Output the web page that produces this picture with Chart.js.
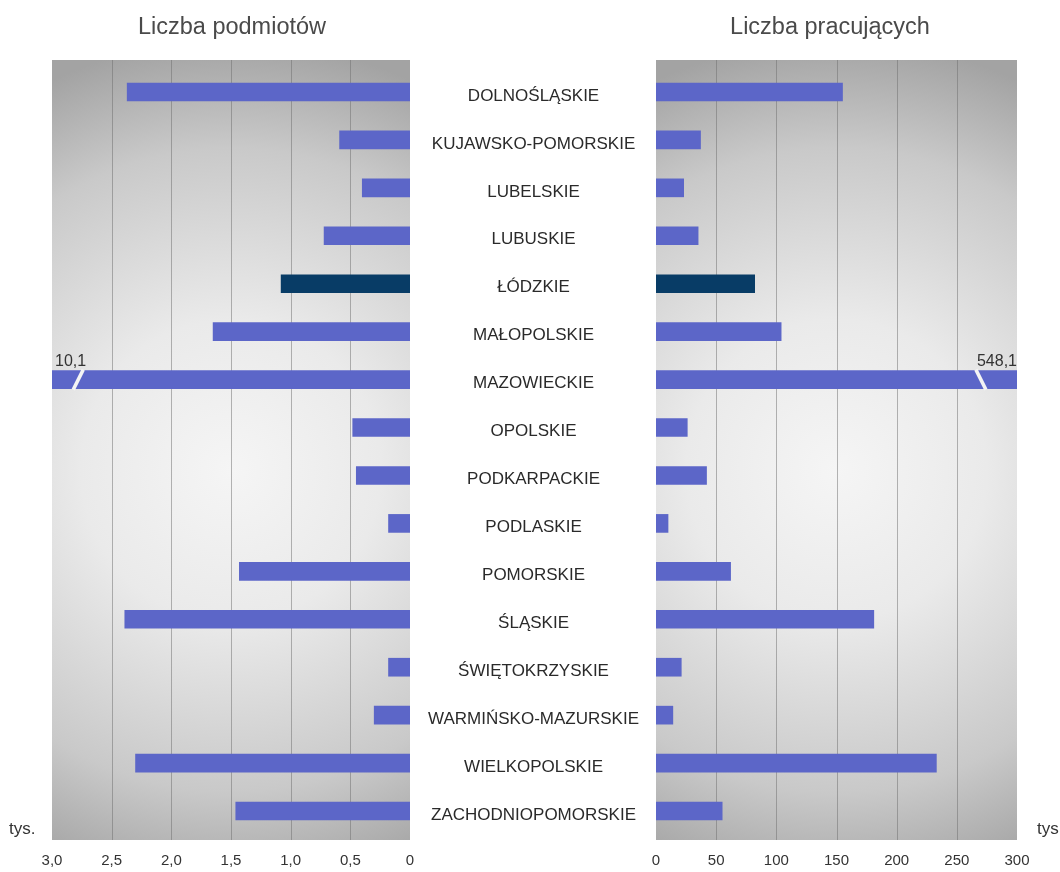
<!DOCTYPE html>
<html>
<head>
<meta charset="utf-8">
<script src="https://cdn.jsdelivr.net/npm/chart.js@4"></script>
<style>
  body { margin: 0; background: #fff; font-family: "Liberation Sans", Arial, sans-serif; }
  .wrap { position: relative; width: 1060px; height: 872px; overflow: hidden; }
  canvas { position: absolute; left: 0; top: 0; }
  .txt { position: absolute; color: #444; white-space: nowrap; }
  .title { font-size: 23.5px; top: 13px; transform: translateX(-50%); color: #4a4a4a; }
  .unit { font-size: 17px; top: 819px; color: #333; }
</style>
</head>
<body>
<div class="wrap">
  <canvas class="js-left" width="1060" height="872"></canvas>
  <canvas class="js-right" width="1060" height="872"></canvas>
  <div class="txt title" style="left:232px">Liczba podmiotów</div>
  <div class="txt title" style="left:830px">Liczba pracujących</div>
  <div class="txt unit" style="left:9px">tys.</div>
  <div class="txt unit" style="left:1037px">tys.</div>
</div>
<script>
const regions = [
  "DOLNOŚLĄSKIE", "KUJAWSKO-POMORSKIE", "LUBELSKIE", "LUBUSKIE", "ŁÓDZKIE",
  "MAŁOPOLSKIE", "MAZOWIECKIE", "OPOLSKIE", "PODKARPACKIE", "PODLASKIE",
  "POMORSKIE", "ŚLĄSKIE", "ŚWIĘTOKRZYSKIE", "WARMIŃSKO-MAZURSKIE",
  "WIELKOPOLSKIE", "ZACHODNIOPOMORSKIE",
];
// tys. podmiotów
const entities = [2.37, 0.59, 0.4, 0.72, 1.08, 1.65, 10.1, 0.48, 0.45, 0.18, 1.43, 2.39, 0.18, 0.3, 2.3, 1.46];
// tys. pracujących
const workers = [155, 37, 23, 35, 82, 104, 548.1, 26, 42, 10, 62, 181, 21, 14, 233, 55];
const entityTicks = [0, 0.5, 1, 1.5, 2, 2.5, 3];
const workerTicks = [0, 50, 100, 150, 200, 250, 300];
const highlighted = "ŁÓDZKIE";
const brokenRegion = "MAZOWIECKIE";

const BAR = "#5c66c8";
const BAR_HL = "#083c66";

const colors = regions.map((r) => (r === highlighted ? BAR_HL : BAR));
const fmtComma = (v) => (v === 0 ? "0" : v.toFixed(1).replace(".", ","));

// gray radial background + inner grid lines, a bit taller than the bar area
const bgPlugin = {
  id: "panelBg",
  beforeDraw(chart) {
    const { ctx, chartArea: a } = chart;
    const top = a.top - 8, bottom = a.bottom + 5;
    const cx = (a.left + a.right) / 2, cy = (top + bottom) / 2 + 20;
    const r = Math.hypot(a.right - a.left, bottom - top) / 2;
    const g = ctx.createRadialGradient(cx, cy, 0, cx, cy, r);
    g.addColorStop(0, "#f5f5f5");
    g.addColorStop(0.35, "#eaeaea");
    g.addColorStop(0.75, "#c9c9c9");
    g.addColorStop(1, "#a3a3a3");
    ctx.save();
    ctx.fillStyle = g;
    ctx.fillRect(a.left, top, a.right - a.left, bottom - top);

    const x = chart.scales.x;
    ctx.strokeStyle = "rgba(110,110,110,0.5)";
    ctx.lineWidth = 1;
    x.ticks.slice(1, -1).forEach((t) => {
      const px = Math.round(x.getPixelForValue(t.value)) + 0.5;
      ctx.beginPath();
      ctx.moveTo(px, top);
      ctx.lineTo(px, bottom);
      ctx.stroke();
    });
    ctx.restore();
  },
};

// axis break on the bar that runs off the scale
function breakPlugin(side, breakValue, text) {
  return {
    id: "axisBreak",
    afterDatasetsDraw(chart) {
      const { ctx, chartArea: a } = chart;
      const i = regions.indexOf(brokenRegion);
      const bar = chart.getDatasetMeta(0).data[i];
      const x = chart.scales.x.getPixelForValue(breakValue);
      const t = bar.y - bar.height / 2, b = bar.y + bar.height / 2;
      const d = side === "left" ? 5 : -5;
      ctx.save();
      ctx.strokeStyle = "#f4f4f4";
      ctx.lineWidth = 3.5;
      ctx.beginPath();
      ctx.moveTo(x + d, t - 1);
      ctx.lineTo(x - d, b + 1);
      ctx.stroke();
      ctx.fillStyle = "#333";
      ctx.font = '16px "Liberation Sans", Arial, sans-serif';
      ctx.textBaseline = "bottom";
      ctx.textAlign = side === "left" ? "left" : "right";
      ctx.fillText(text, side === "left" ? a.left + 3 : a.right, t - 1);
      ctx.restore();
    },
  };
}

const xFont = { family: '"Liberation Sans", Arial, sans-serif', size: 15 };

new Chart(document.querySelector(".js-left"), {
  type: "bar",
  data: {
    labels: regions,
    datasets: [{ data: entities, backgroundColor: colors, barThickness: 18, clip: 0 }],
  },
  options: {
    indexAxis: "y",
    responsive: false,
    animation: false,
    layout: { padding: { left: 52, right: 650, top: 68, bottom: 0 } },
    plugins: { legend: { display: false }, tooltip: { enabled: false } },
    scales: {
      y: { display: false },
      x: {
        reverse: true,
        min: 0,
        max: 3,
        afterBuildTicks(scale) { scale.ticks = entityTicks.map((value) => ({ value })); },
        afterFit(scale) { scale.height = 37; },
        border: { display: false },
        grid: { display: false, drawTicks: false },
        ticks: { padding: 17, color: "#333", font: xFont, callback: (v) => fmtComma(v) },
      },
    },
  },
  plugins: [bgPlugin, breakPlugin("left", 2.78, "10,1")],
});

new Chart(document.querySelector(".js-right"), {
  type: "bar",
  data: {
    labels: regions,
    datasets: [{ data: workers, backgroundColor: colors, barThickness: 18, clip: 0 }],
  },
  options: {
    indexAxis: "y",
    responsive: false,
    animation: false,
    layout: { padding: { left: 410, right: 43, top: 68, bottom: 0 } },
    plugins: { legend: { display: false }, tooltip: { enabled: false } },
    scales: {
      y: {
        afterFit(scale) { scale.width = 246; },
        border: { display: false },
        grid: { display: false, drawTicks: false },
        ticks: {
          crossAlign: "center",
          padding: 17,
          labelOffset: 4,
          color: "#2a2a2a",
          font: { family: '"Liberation Sans", Arial, sans-serif', size: 17 },
        },
      },
      x: {
        min: 0,
        max: 300,
        afterBuildTicks(scale) { scale.ticks = workerTicks.map((value) => ({ value })); },
        afterFit(scale) { scale.height = 37; },
        border: { display: false },
        grid: { display: false, drawTicks: false },
        ticks: { padding: 17, color: "#333", font: xFont },
      },
    },
  },
  plugins: [bgPlugin, breakPlugin("right", 270, "548,1")],
});
</script>
</body>
</html>
